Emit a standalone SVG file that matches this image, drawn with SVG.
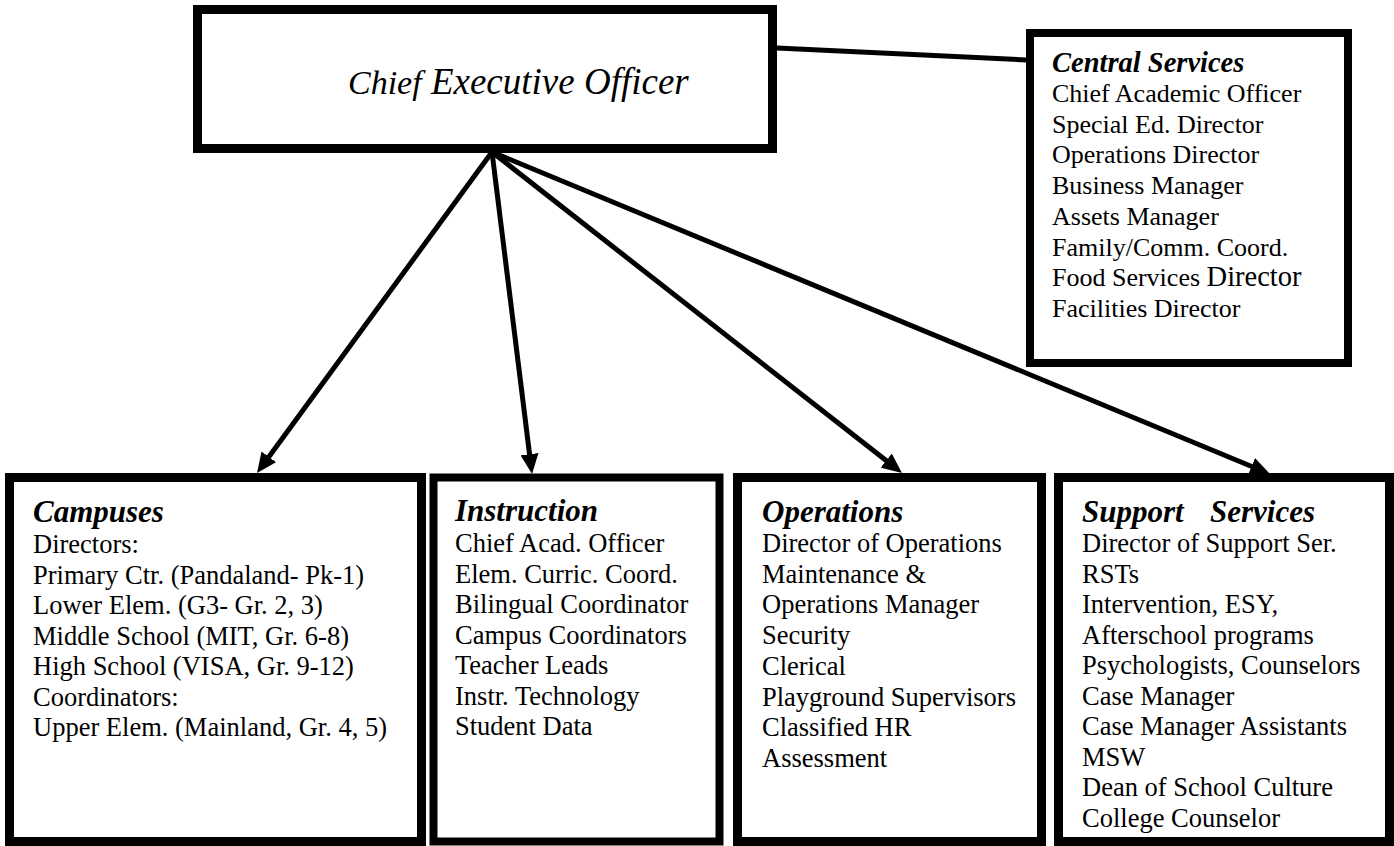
<svg xmlns="http://www.w3.org/2000/svg" width="1394" height="846" viewBox="0 0 1394 846">
<style>
.box{fill:#fff;stroke:#000}
.conn{stroke:#000;stroke-width:5;fill:none}
text{font-family:"Liberation Serif","Times New Roman",serif;fill:#000}
.ttl{font-size:31px;font-weight:bold;font-style:italic}
.body{font-size:26.5px}
.cs{font-size:26px}
.cst{font-size:28.5px;font-weight:bold;font-style:italic}
</style>
<defs>
<marker id="ah" viewBox="0 0 20 18" refX="10" refY="9" markerWidth="20" markerHeight="18" markerUnits="userSpaceOnUse" orient="auto">
<path d="M0,0 L20,9 L0,18 z" fill="#000"/>
</marker>
</defs>
<rect width="1394" height="846" fill="#fff"/>
<g id="connectors">
<line class="conn" x1="777" y1="48" x2="1026" y2="60"/>
<line class="conn" x1="492" y1="152" x2="262.9" y2="464.9" marker-end="url(#ah)"/>
<line class="conn" x1="492" y1="152" x2="530.8" y2="464.1" marker-end="url(#ah)"/>
<line class="conn" x1="492" y1="152" x2="894.1" y2="466.8" marker-end="url(#ah)"/>
<line class="conn" x1="492" y1="152" x2="1260.8" y2="470.2" marker-end="url(#ah)"/>
</g>
<g id="ceo">
<rect class="box" x="197.5" y="9.5" width="575" height="139" stroke-width="9"/>
<text x="348" y="94" font-style="italic" font-size="37"><tspan font-size="34">Chief</tspan> Executive Officer</text>
</g>
<g id="central">
<rect class="box" x="1030" y="33" width="318" height="330" stroke-width="8"/>
<text class="cst" x="1052" y="72">Central Services</text>
<text class="cs" x="1052" y="102">Chief Academic Officer</text>
<text class="cs" x="1052" y="132.7">Special Ed. Director</text>
<text class="cs" x="1052" y="163.4">Operations Director</text>
<text class="cs" x="1052" y="194.1">Business Manager</text>
<text class="cs" x="1052" y="224.8">Assets Manager</text>
<text class="cs" x="1052" y="255.5">Family/Comm. Coord.</text>
<text class="cs" x="1052" y="286.2">Food Services <tspan font-size="28.5">Director</tspan></text>
<text class="cs" x="1052" y="317">Facilities Director</text>
</g>
<g id="campuses">
<rect class="box" x="9.5" y="477.5" width="412" height="364" stroke-width="9"/>
<text class="ttl" x="33" y="522">Campuses</text>
<text class="body" x="33" y="553">Directors:</text>
<text class="body" x="33" y="583.5">Primary Ctr. (Pandaland- Pk-1)</text>
<text class="body" x="33" y="614">Lower Elem. (G3- Gr. 2, 3)</text>
<text class="body" x="33" y="644.5">Middle School (MIT, Gr. 6-8)</text>
<text class="body" x="33" y="675">High School (VISA, Gr. 9-12)</text>
<text class="body" x="33" y="705.5">Coordinators:</text>
<text class="body" x="33" y="736">Upper Elem. (Mainland, Gr. 4, 5)</text>
</g>
<g id="instruction">
<rect class="box" x="433.5" y="477.5" width="286" height="364" stroke-width="8"/>
<text class="ttl" x="455" y="521">Instruction</text>
<text class="body" x="455" y="552">Chief Acad. Officer</text>
<text class="body" x="455" y="582.5">Elem. Curric. Coord.</text>
<text class="body" x="455" y="613">Bilingual Coordinator</text>
<text class="body" x="455" y="643.5">Campus Coordinators</text>
<text class="body" x="455" y="674">Teacher Leads</text>
<text class="body" x="455" y="704.5">Instr. Technology</text>
<text class="body" x="455" y="735">Student Data</text>
</g>
<g id="operations">
<rect class="box" x="737.5" y="477.5" width="304" height="364" stroke-width="9"/>
<text class="ttl" x="762" y="522">Operations</text>
<text class="body" x="762" y="552">Director of Operations</text>
<text class="body" x="762" y="582.7">Maintenance &amp;</text>
<text class="body" x="762" y="613.4">Operations Manager</text>
<text class="body" x="762" y="644.1">Security</text>
<text class="body" x="762" y="674.8">Clerical</text>
<text class="body" x="762" y="705.5">Playground Supervisors</text>
<text class="body" x="762" y="736.2">Classified HR</text>
<text class="body" x="762" y="767">Assessment</text>
</g>
<g id="support">
<rect class="box" x="1058.5" y="477.5" width="331" height="364" stroke-width="9"/>
<text class="ttl" y="522"><tspan x="1082">Support</tspan><tspan x="1210">Services</tspan></text>
<text class="body" x="1082" y="552">Director of Support Ser.</text>
<text class="body" x="1082" y="582.5">RSTs</text>
<text class="body" x="1082" y="613">Intervention, ESY,</text>
<text class="body" x="1082" y="643.5">Afterschool programs</text>
<text class="body" x="1082" y="674">Psychologists, Counselors</text>
<text class="body" x="1082" y="704.5">Case Manager</text>
<text class="body" x="1082" y="735">Case Manager Assistants</text>
<text class="body" x="1082" y="765.5">MSW</text>
<text class="body" x="1082" y="796">Dean of School Culture</text>
<text class="body" x="1082" y="826.5">College Counselor</text>
</g>
</svg>
